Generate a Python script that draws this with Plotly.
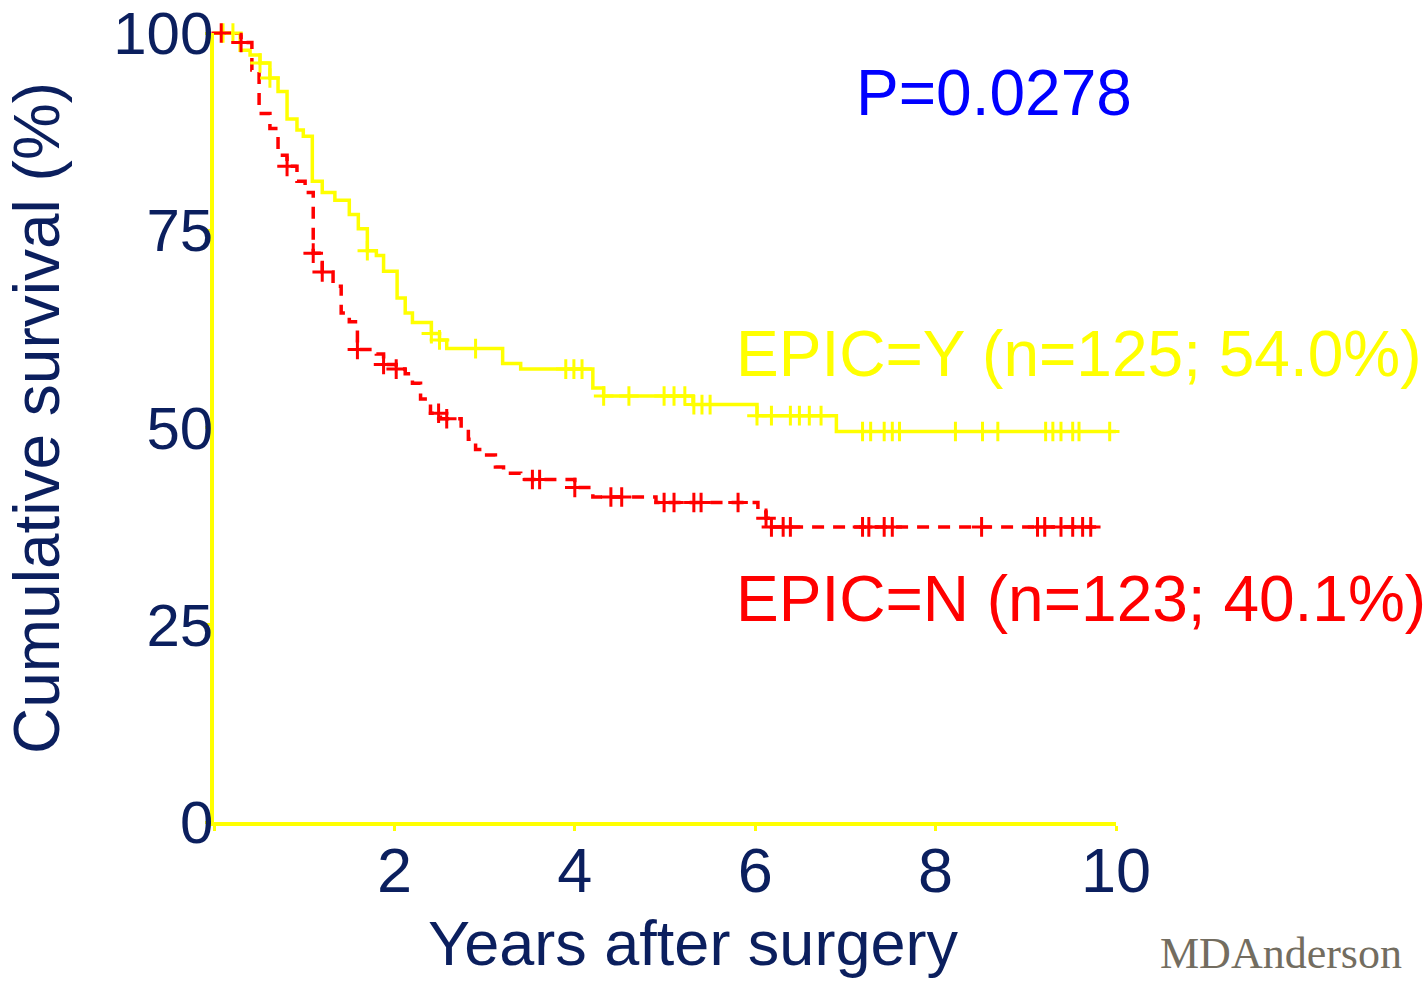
import plotly.graph_objects as go
import numpy as np

# EPIC=Y (yellow) step function: event times (years) and survival (%)
y_times = [0.0, 0.29, 0.40, 0.51, 0.62, 0.71, 0.81, 0.92, 0.99, 1.09, 1.20, 1.34, 1.50, 1.60, 1.70,
           1.80, 1.88, 2.03, 2.12, 2.20, 2.41, 2.50, 2.58, 3.20, 3.40, 4.20, 4.32, 5.31, 6.02, 6.90, 10.0]
y_surv = [100, 97.8, 97.2, 96.2, 94.3, 92.6, 89.1, 87.7, 86.9, 81.2, 79.8, 78.8, 77.0, 75.2, 72.4,
          71.8, 69.8, 66.4, 64.5, 63.3, 61.9, 61.1, 60.0, 58.1, 57.4, 55.0, 54.0, 52.9, 51.5, 49.5, 49.5]
y_censor = [0.10, 0.21, 0.51, 0.62, 1.70, 2.41, 2.50, 2.90, 3.90, 3.99, 4.08, 4.32, 4.60, 4.99, 5.10,
            5.22, 5.32, 5.41, 5.50, 6.02, 6.18, 6.39, 6.49, 6.60, 6.73, 7.19, 7.28, 7.43, 7.52, 7.60,
            8.22, 8.52, 8.69, 9.22, 9.30, 9.39, 9.52, 9.59, 9.93]

# EPIC=N (red) step function
n_times = [0.0, 0.30, 0.42, 0.50, 0.62, 0.71, 0.81, 0.92, 1.01, 1.10, 1.20, 1.32, 1.41, 1.50, 1.59,
           1.80, 1.88, 2.02, 2.12, 2.20, 2.29, 2.40, 2.51, 2.74, 2.82, 2.90, 3.00, 3.12, 3.21, 3.40,
           4.00, 4.20, 4.90, 6.03, 6.12, 6.18, 9.78]
n_surv = [100, 98.8, 95.3, 89.8, 87.9, 84.5, 83.1, 81.2, 79.8, 72.1, 69.7, 67.9, 64.5, 63.4, 59.9,
          59.3, 58.0, 57.4, 56.8, 55.6, 53.6, 51.8, 51.1, 49.8, 48.5, 47.2, 46.5, 45.0, 44.2, 43.4,
          42.4, 41.2, 40.5, 39.3, 38.5, 37.4, 37.4]
n_censor = [0.08, 0.30, 0.81, 1.10, 1.20, 1.59, 1.88, 2.02, 2.49, 2.58, 3.53, 3.61, 4.00, 4.40, 4.52,
            4.99, 5.10, 5.32, 5.40, 5.81, 6.12, 6.18, 6.31, 6.39, 7.19, 7.26, 7.43, 7.52, 8.51, 9.13,
            9.21, 9.39, 9.52, 9.63, 9.72]

x_ticks = [0, 2, 4, 6, 8, 10]
x_ticktext = ["", "2", "4", "6", "8", "10"]
y_ticks = [0, 25, 50, 75, 100]
y_ticktext = ["0", "25", "50", "75", "100"]

YEL = "#ffff00"
RED = "#ff0000"
NAVY = "#0b1f5e"
FONT = "Liberation Sans, Arial, sans-serif"


def step_at(times, surv, t):
    idx = np.searchsorted(np.array(times), t, side="right") - 1
    return surv[max(idx, 0)]


fig = go.Figure()
fig.add_trace(go.Scatter(x=y_times, y=y_surv, mode="lines", line=dict(color=YEL, width=3.5, shape="hv"),
                         showlegend=False, cliponaxis=False))
fig.add_trace(go.Scatter(x=n_times, y=n_surv, mode="lines",
                         line=dict(color=RED, width=3.5, shape="hv", dash="12px,9px"),
                         showlegend=False, cliponaxis=False))
fig.add_trace(go.Scatter(x=y_censor, y=[step_at(y_times, y_surv, t) for t in y_censor], mode="markers",
                         marker=dict(symbol="cross-thin", size=14, line=dict(color=YEL, width=3)),
                         showlegend=False, cliponaxis=False))
fig.add_trace(go.Scatter(x=n_censor, y=[step_at(n_times, n_surv, t) for t in n_censor], mode="markers",
                         marker=dict(symbol="cross-thin", size=14, line=dict(color=RED, width=3)),
                         showlegend=False, cliponaxis=False))

fig.update_layout(
    width=1427, height=981, autosize=False,
    margin=dict(l=214, r=311, t=33, b=159, autoexpand=False),
    paper_bgcolor="white", plot_bgcolor="white",
    font=dict(family=FONT, color=NAVY),
    showlegend=False,
)
fig.update_xaxes(range=[0, 10], showgrid=False, zeroline=False, showline=True, linecolor=YEL, linewidth=3.5,
                 ticks="outside", ticklen=5, tickwidth=2.5, tickcolor=YEL, ticklabelstandoff=-14,
                 ticklabeloverflow="allow", automargin=False,
                 tickvals=x_ticks, ticktext=x_ticktext, tickfont=dict(size=63, color=NAVY, family=FONT))
fig.update_yaxes(range=[0, 100], showgrid=False, zeroline=False, showline=True, linecolor=YEL, linewidth=3.5,
                 ticks="outside", ticklen=5, tickwidth=2.5, tickcolor=YEL, ticklabelstandoff=-20,
                 ticklabeloverflow="allow", automargin=False,
                 tickvals=y_ticks, ticktext=y_ticktext, tickfont=dict(size=60, color=NAVY, family=FONT))

fig.add_annotation(text="Years after surgery", x=0.531, y=-0.1535, xref="paper", yref="paper", showarrow=False,
                   font=dict(size=63, color=NAVY, family=FONT), xanchor="center", yanchor="middle")
fig.add_annotation(text="Cumulative survival (%)", x=-0.1962, y=0.512, xref="paper", yref="paper",
                   showarrow=False, textangle=-90, font=dict(size=64, color=NAVY, family=FONT),
                   xanchor="center", yanchor="middle")
fig.add_annotation(text="P=0.0278", x=8.65, y=92.36, xref="x", yref="y", showarrow=False,
                   font=dict(size=64, color="#0000ff", family=FONT), xanchor="center", yanchor="middle")
fig.add_annotation(text="EPIC=Y (n=125; 54.0%)", x=5.77, y=59.34, xref="x", yref="y", showarrow=False,
                   font=dict(size=64, color=YEL, family=FONT), xanchor="left", yanchor="middle")
fig.add_annotation(text="EPIC=N (n=123; 40.1%)", x=5.77, y=28.24, xref="x", yref="y", showarrow=False,
                   font=dict(size=64, color=RED, family=FONT), xanchor="left", yanchor="middle")
fig.add_annotation(text="MDAnderson", x=1.0466, y=-0.1672, xref="paper", yref="paper", showarrow=False,
                   font=dict(size=44, color="#736d60", family="Liberation Serif, Times New Roman, serif"),
                   xanchor="left", yanchor="middle")

fig.write_html("out.html")
